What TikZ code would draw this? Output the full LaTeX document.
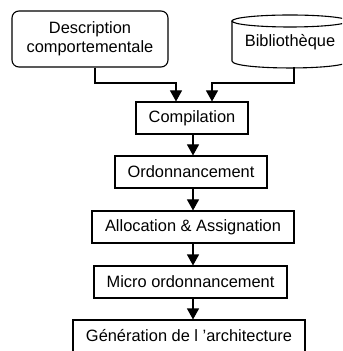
\documentclass[tikz,border=0pt]{standalone}
\usepackage{fontspec}
\setmainfont{Liberation Sans}
\usetikzlibrary{arrows.meta}
\begin{document}
\begin{tikzpicture}[x=0.5pt,y=-0.5pt,
  every node/.style={font=\fontsize{8.2}{9.6}\selectfont, inner sep=0pt},
  stage/.style={draw, line width=0.55pt, minimum height=16pt, align=center},
  flow/.style={line width=0.55pt, -{Triangle[width=6pt,length=5.5pt]}},
  link/.style={line width=0.55pt}]
  \useasboundingbox (0,0) rectangle (342,351);
  \clip (0,0) rectangle (342,351);

  % inputs
  \node[stage, rounded corners=3.5pt, minimum width=78pt, minimum height=28pt]
    (desc) at (90,39) {Description\\comportementale};
  \node (lib) at (290,42) {Biblioth\`eque};
  % library drawn as a cylinder
  \draw[link] (232,21) -- (232,61)
    .. controls (232,70.3) and (348,70.3) .. (348,61) -- (348,21);
  \draw[link] (290,21) ellipse [x radius=58, y radius=6];
  \coordinate (libout) at (294,67.5);

  % processing chain
  \node[stage, minimum width=56pt]   (comp)  at (192,118) {Compilation};
  \node[stage, minimum width=76pt]   (ord)   at (191,172) {Ordonnancement};
  \node[stage, minimum width=101pt]  (alloc) at (193,227) {Allocation \& Assignation};
  \node[stage, minimum width=96.5pt] (micro) at (190.5,282) {Micro ordonnancement};
  \node[stage, minimum width=116pt]  (gen)   at (189,336) {G\'en\'eration de l 'architecture};

  \coordinate (spine) at (193,0);
  \coordinate (inL) at (176,0);
  \coordinate (inR) at (212,0);
  \coordinate (join) at (0,83);

  % merging inputs into the compiler
  \draw[flow] (desc.south -| 95,0) |- (join -| inL) -- (comp.north -| inL);
  \draw[flow] (libout) |- (join -| inR) -- (comp.north -| inR);

  % stage to stage
  \draw[flow] (comp.south -| spine)  -- (ord.north -| spine);
  \draw[flow] (ord.south -| spine)   -- (alloc.north -| spine);
  \draw[flow] (alloc.south -| spine) -- (micro.north -| spine);
  \draw[flow] (micro.south -| spine) -- (gen.north -| spine);
\end{tikzpicture}
\end{document}
